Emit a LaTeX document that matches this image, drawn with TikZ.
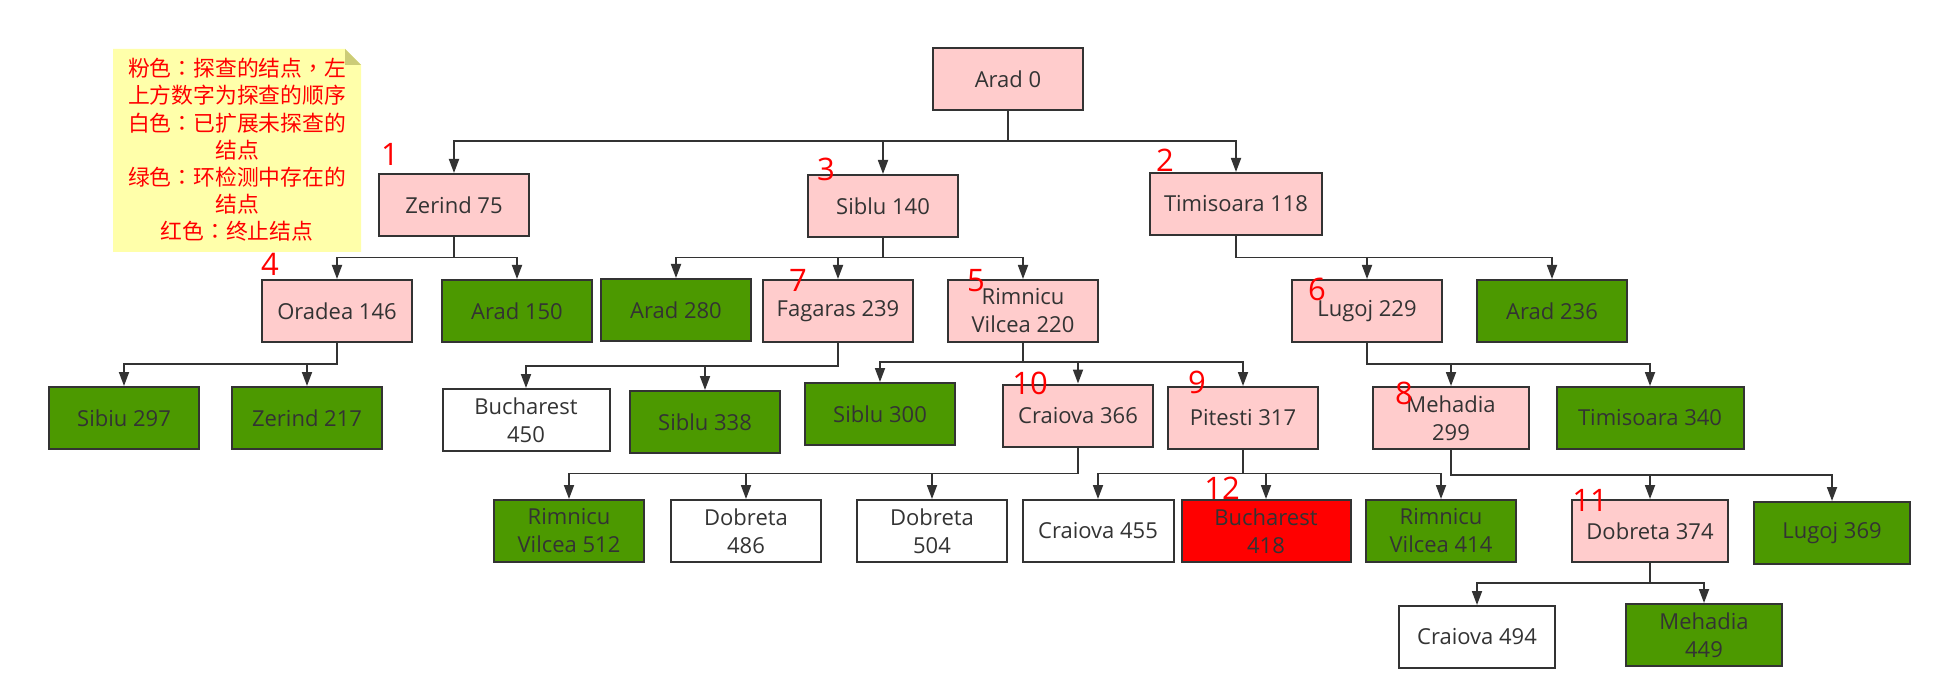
\documentclass[tikz,border=0pt]{standalone}
\usepackage{fontspec}
\setmainfont{Open Sans}
\newfontfamily\cjk{Noto Sans CJK SC}
\newfontfamily\cjkp{Noto Sans CJK TC}
\newcommand{\pc}{{\cjkp ：}}
\newcommand{\pcm}{{\cjkp ，}}
\usetikzlibrary{arrows.meta}
\definecolor{ln}{HTML}{333333}
\definecolor{txt}{HTML}{333333}
\definecolor{pk}{HTML}{FFCCCC}
\definecolor{gr}{HTML}{4C9900}
\definecolor{rd}{HTML}{FF0000}
\definecolor{note}{HTML}{FFFFAA}
\definecolor{fold}{HTML}{CCCC77}
\tikzset{
  nd/.style={draw=ln, line width=2pt, minimum height=62pt, inner sep=0pt, align=center, text=txt, font=\fontsize{22}{28}\selectfont},
  pkb/.style={nd, fill=pk},
  grb/.style={nd, fill=gr},
  wtb/.style={nd, fill=white},
  rdb/.style={nd, fill=rd},
  conn/.style={draw=ln, line width=1.8pt, -{Triangle[length=14pt,width=10pt]}},
  num/.style={text=rd, font=\fontsize{31}{31}\selectfont, inner sep=0pt}
}
\begin{document}
\begin{tikzpicture}[x=1pt,y=-1pt]
\useasboundingbox[fill=white] (0,0) rectangle (1942,700);
% note
\fill[note] (113,49) -- (345,49) -- (361,65) -- (361,252) -- (113,252) -- cycle;
\fill[fold] (345,49) -- (345,65) -- (361,65) -- cycle;
\node[text=rd, align=center, inner sep=0pt, font=\cjk\fontsize{21.8}{27.2}\selectfont] (legend) at (237,150)
 {粉色\pc 探查的结点\pcm 左\\上方数字为探查的顺序\\白色\pc 已扩展未探查的\\结点\\绿色\pc 环检测中存在的\\结点\\红色\pc 终止结点};
% hline levels
\coordinate (h0) at (0,141);
\coordinate (h1) at (0,257.5);
\coordinate (h2a) at (0,364);
\coordinate (h2b) at (0,366);
\coordinate (h2c) at (0,362);
\coordinate (h3a) at (0,473.5);
\coordinate (h3b) at (0,475);
\coordinate (h4) at (0,583);
% level 0
\node[pkb, minimum width=150pt] (arad0) at (1008,79.5) {Arad 0};
% level 1
\node[pkb, minimum width=150pt] (zer75) at (454,205) {Zerind 75};
\node[pkb, minimum width=150pt] (sib140) at (883,206) {Siblu 140};
\node[pkb, minimum width=172pt] (tim118) at (1236,204) {Timisoara 118};
% level 2
\node[pkb, minimum width=150pt] (ora146) at (337,311) {Oradea 146};
\node[grb, minimum width=150pt] (ara150) at (517,311) {Arad 150};
\node[grb, minimum width=150pt] (ara280) at (676,310) {Arad 280};
\node[pkb, minimum width=150pt] (fag239) at (838,311) {Fagaras 239};
\node[pkb, minimum width=150pt] (rim220) at (1023,311) {Rimnicu\\Vilcea 220};
\node[pkb, minimum width=150pt] (lug229) at (1367,311) {Lugoj 229};
\node[grb, minimum width=150pt] (ara236) at (1552,311) {Arad 236};
% level 3
\node[grb, minimum width=150pt] (sib297) at (124,418) {Sibiu 297};
\node[grb, minimum width=150pt] (zer217) at (307,418) {Zerind 217};
\node[wtb, minimum width=167pt] (buc450) at (526,420) {Bucharest\\450};
\node[grb, minimum width=150pt] (sib338) at (705,422) {Siblu 338};
\node[grb, minimum width=150pt] (sib300) at (880,414) {Siblu 300};
\node[pkb, minimum width=150pt] (cra366) at (1078,415.5) {Craiova 366};
\node[pkb, minimum width=150pt] (pit317) at (1243,418) {Pitesti 317};
\node[pkb, minimum width=156pt] (meh299) at (1451,418) {Mehadia\\299};
\node[grb, minimum width=187pt] (tim340) at (1650,418) {Timisoara 340};
% level 4
\node[grb, minimum width=150pt] (rim512) at (569,531) {Rimnicu\\Vilcea 512};
\node[wtb, minimum width=150pt] (dob486) at (746,531) {Dobreta\\486};
\node[wtb, minimum width=150pt] (dob504) at (932,531) {Dobreta\\504};
\node[wtb, minimum width=151pt] (cra455) at (1098,531) {Craiova 455};
\node[rdb, minimum width=169pt] (buc418) at (1266,531) {Bucharest\\418};
\node[grb, minimum width=150pt] (rim414) at (1441,531) {Rimnicu\\Vilcea 414};
\node[pkb, minimum width=156pt] (dob374) at (1650,531) {Dobreta 374};
\node[grb, minimum width=156pt] (lug369) at (1832,533) {Lugoj 369};
% level 5
\node[wtb, minimum width=156pt] (cra494) at (1477,637) {Craiova 494};
\node[grb, minimum width=156pt] (meh449) at (1704,635) {Mehadia\\449};
% connectors
\foreach \p/\c/\h in {arad0/zer75/h0, arad0/sib140/h0, arad0/tim118/h0,
  zer75/ora146/h1, zer75/ara150/h1,
  sib140/ara280/h1, sib140/fag239/h1, sib140/rim220/h1,
  tim118/lug229/h1, tim118/ara236/h1,
  ora146/sib297/h2a, ora146/zer217/h2a,
  fag239/buc450/h2b, fag239/sib338/h2b,
  rim220/sib300/h2c, rim220/cra366/h2c, rim220/pit317/h2c,
  lug229/meh299/h2a, lug229/tim340/h2a,
  cra366/rim512/h3a, cra366/dob486/h3a, cra366/dob504/h3a,
  pit317/cra455/h3a, pit317/buc418/h3a, pit317/rim414/h3a,
  meh299/dob374/h3b, meh299/lug369/h3b,
  dob374/cra494/h4, dob374/meh449/h4}
  \draw[conn] (\p.south) -- (\p.south |- \h) -| (\c.north);
% order numbers
\node[num] (n1) at (390,154) {1};
\node[num] (n2) at (1165,160) {2};
\node[num] (n3) at (826,169) {3};
\node[num] (n4) at (270,264) {4};
\node[num] (n5) at (976,281) {5};
\node[num] (n6) at (1317,289) {6};
\node[num] (n7) at (798,280) {7};
\node[num] (n8) at (1404,393) {8};
\node[num] (n9) at (1197,382) {9};
\node[num] (n10) at (1030,383) {10};
\node[num] (n11) at (1590,500) {11};
\node[num] (n12) at (1222,488) {12};
\end{tikzpicture}
\end{document}
